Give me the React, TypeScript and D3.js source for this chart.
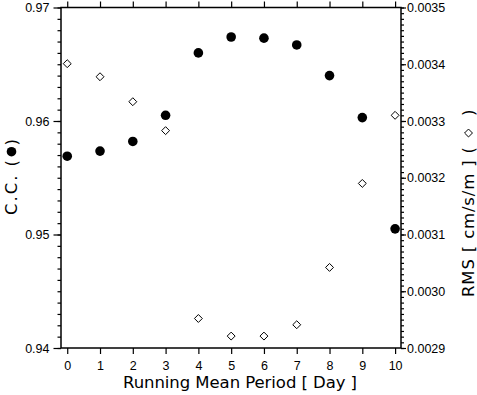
import { useEffect, useRef } from 'react';
import * as d3 from 'd3';

const periods = [0, 1, 2, 3, 4, 5, 6, 7, 8, 9, 10];
const ccValues = [0.9569, 0.95735, 0.9582, 0.9605, 0.966, 0.9674, 0.9673, 0.9667, 0.964, 0.9603, 0.9505];
const rmsValues = [0.003401, 0.003378, 0.003334, 0.003283, 0.002952, 0.002921, 0.002921, 0.002941, 0.003042, 0.00319, 0.00331];
const ccTicks = [0.94, 0.95, 0.96, 0.97];
const rmsTicks = [0.0029, 0.003, 0.0031, 0.0032, 0.0033, 0.0034, 0.0035];

export default function App() {
  const svgRef = useRef<SVGSVGElement>(null);

  useEffect(() => {
    if (!svgRef.current) return;
    const width = 477;
    const height = 395;
    const margin = { top: 7.5, right: 76, bottom: 47, left: 61 };
    const font = '"Liberation Sans", Arial, Helvetica, sans-serif';
    const titleFont = '"DejaVu Sans", "Liberation Sans", sans-serif';

    d3.select(svgRef.current).selectAll('*').remove();
    const svg = d3.select(svgRef.current).attr('width', width).attr('height', height);

    const x = d3.scaleLinear().domain([-0.19, 10.18]).range([margin.left, width - margin.right]);
    const yCC = d3.scaleLinear().domain([0.94, 0.97]).range([height - margin.bottom, margin.top]);
    const yRMS = d3.scaleLinear().domain([0.0029, 0.0035]).range([height - margin.bottom, margin.top]);

    // frame
    svg
      .append('rect')
      .attr('x', margin.left)
      .attr('y', margin.top)
      .attr('width', width - margin.left - margin.right)
      .attr('height', height - margin.top - margin.bottom)
      .attr('fill', 'none')
      .attr('stroke', '#000')
      .attr('stroke-width', 1.5);

    const styleAxis = (g: any) => {
      g.select('.domain').remove();
      g.selectAll('line').attr('stroke', '#000').attr('stroke-width', 1.2);
      g.selectAll('text').attr('font-family', font).attr('font-size', '12.5px').attr('fill', '#000');
    };

    // x axes
    svg
      .append('g')
      .attr('transform', `translate(0,${height - margin.bottom})`)
      .call(d3.axisBottom(x).tickValues(periods).tickFormat(d3.format('d')).tickSize(6).tickPadding(7))
      .call(styleAxis);
    svg
      .append('g')
      .attr('transform', `translate(0,${margin.top})`)
      .call(d3.axisTop(x).tickValues(periods).tickFormat(() => '').tickSize(6))
      .call(styleAxis);

    // left axis: minor then major
    const ccMinor = d3.range(0, 31).map((i) => 0.94 + i * 0.001);
    svg
      .append('g')
      .attr('transform', `translate(${margin.left},0)`)
      .call(d3.axisLeft(yCC).tickValues(ccMinor).tickFormat(() => '').tickSize(3.5))
      .call(styleAxis);
    svg
      .append('g')
      .attr('transform', `translate(${margin.left},0)`)
      .call(d3.axisLeft(yCC).tickValues(ccTicks).tickFormat(d3.format('.2f')).tickSize(7.5).tickPadding(4))
      .call(styleAxis);

    // right axis
    const rmsMinor = d3.range(0, 61).map((i) => 0.0029 + i * 0.00001);
    svg
      .append('g')
      .attr('transform', `translate(${width - margin.right},0)`)
      .call(d3.axisRight(yRMS).tickValues(rmsMinor).tickFormat(() => '').tickSize(3))
      .call(styleAxis);
    svg
      .append('g')
      .attr('transform', `translate(${width - margin.right},0)`)
      .call(d3.axisRight(yRMS).tickValues(rmsTicks).tickFormat(d3.format('.4f')).tickSize(5).tickPadding(1))
      .call(styleAxis);

    // C.C. points
    svg
      .append('g')
      .selectAll('circle')
      .data(periods)
      .enter()
      .append('circle')
      .attr('cx', (d) => x(d))
      .attr('cy', (d, i) => yCC(ccValues[i]))
      .attr('r', 4.8)
      .attr('fill', '#000');

    // RMS points
    const diamond = d3.symbol().type(d3.symbolDiamond2).size(40);
    svg
      .append('g')
      .selectAll('path')
      .data(periods)
      .enter()
      .append('path')
      .attr('d', diamond)
      .attr('transform', (d, i) => `translate(${x(d)},${yRMS(rmsValues[i])})`)
      .attr('fill', '#fff')
      .attr('stroke', '#000')
      .attr('stroke-width', 1);

    const label = (g: any, tx: number, str: string, len: number) =>
      g
        .append('text')
        .attr('x', tx)
        .attr('y', 0)
        .attr('font-family', titleFont)
        .attr('font-size', '16.5px')
        .attr('textLength', len)
        .attr('lengthAdjust', 'spacing')
        .text(str);

    // x title
    label(svg, 123, 'Running Mean Period [ Day ]', 234).attr('y', 388);

    // left title
    const left = svg.append('g').attr('transform', 'translate(17,0) rotate(-90)');
    label(left, -215, 'C.C. (', 55);
    left.append('circle').attr('cx', -151.7).attr('cy', -5.5).attr('r', 4.8).attr('fill', '#000');
    label(left, -145.5, ')', 6);

    // right title
    const right = svg.append('g').attr('transform', 'translate(474,0) rotate(-90)');
    label(right, -297, 'RMS [ cm/s/m ] (', 150);
    right
      .append('path')
      .attr('d', diamond)
      .attr('transform', 'translate(-133,-5.5)')
      .attr('fill', '#fff')
      .attr('stroke', '#000');
    label(right, -116, ')', 6);
  }, []);

  return <svg ref={svgRef} style={{ position: 'absolute', left: 0, top: 0, background: '#fff' }} />;
}
